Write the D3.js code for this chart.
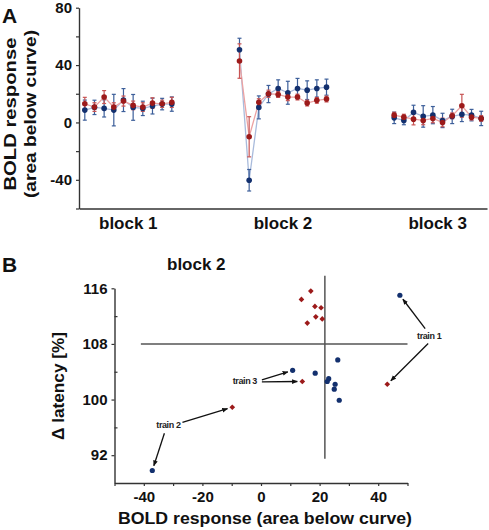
<!DOCTYPE html>
<html><head><meta charset="utf-8">
<script src="https://cdn.jsdelivr.net/npm/d3@7"></script>
<style>
body{margin:0;background:#fff;}
svg{display:block;font-family:"Liberation Sans",Arial,Helvetica,sans-serif;}
</style>
</head><body>
<svg id="chart" width="489" height="530"></svg>
<script>
// ---------- Panel A data ----------
const blocks = ["block 1", "block 2", "block 3"];
const trialsPerBlock = 10;
const blueMean = [8.6, 10.5, 9.8, 8.6, 15.6, 10.5, 9.8, 11.4, 12.8, 12.8,
                  50.7, -40.3, 10.5, 19.8, 23.7, 20.7, 23.7, 22.5, 23.7, 24.6,
                  3.2, 1.4, 7.0, 4.2, 5.1, 1.4, 4.2, 5.6, 5.1, 2.8];
const blueErr  = [7, 5, 6, 11, 8, 9, 5, 5.5, 4, 5,
                  8, 7.5, 8, 6, 6, 8, 7, 6.5, 6, 5.6,
                  4, 3, 5, 7.5, 6, 5, 5, 5, 4, 5];
const redMean  = [13.0, 10.7, 17.7, 10.7, 14.9, 11.9, 10.7, 13.5, 13.0, 14.0,
                  42.8, -10.0, 14.0, 20.0, 19.5, 17.7, 17.7, 13.5, 15.4, 16.3,
                  5.1, 3.7, 2.3, 1.4, 2.8, 0.0, 4.6, 11.6, 3.7, 2.8];
const redErr   = [4.5, 3, 4.5, 3, 3.5, 3, 3, 3.7, 2.5, 3.5,
                  12, 14, 2.5, 2.5, 2, 2.5, 2, 2, 2, 2,
                  2, 2, 4, 3, 3, 3, 2, 8, 2, 2];
const yTicksA = [80, 40, 0, -40];
const yMinorA = [60, 20, -20, -60];

// ---------- Panel B data ----------
const scatterTitle = "block 2";
const blueX = [47.4, -37.1, 10.8, 18.5, 26.2, 23.1, 22.6, 25.3, 25.0, 26.7];
const blueY = [115.0, 89.8, 104.2, 103.8, 105.7, 103.0, 102.6, 102.2, 101.5, 99.9];
const redX  = [43.1, -9.8, 14.1, 13.8, 17.0, 18.4, 20.5, 18.7, 15.8, 20.9];
const redY  = [102.2, 98.9, 102.6, 114.4, 115.6, 113.4, 113.2, 111.9, 111.0, 111.6];
const trainLabels = ["train 1", "train 2", "train 3"];
const trainLabelX = [57.4, -31.6, -5.5];
const trainLabelY = [109.2, 96.3, 102.7];
const refX = 21.8, refXSpan = [91.5, 117.8];
const refY = 108, refYSpan = [-41, 50];
const yTicksB = [116, 108, 100, 92];
const yMinorB = [112, 104, 96];
const xTicksB = [-40, -20, 0, 20, 40];
const xMinorB = [-50, -30, -10, 10, 30, 50];

// ---------- styles ----------
const BLUE = "#13306e", RED = "#9c1a1a";
const BLUE_LINE = "#a9bbdc", RED_LINE = "#eca2a2";
const BLUE_ERR = "#3d5f9a", RED_ERR = "#c85454";
const AXIS = "#333";
const fmt = d => String(d);

const svg = d3.select("#chart");

// ================= Panel A =================
const xA = d3.scaleLinear().domain([-0.6, 41.6]).range([79, 487]);
const yA = d3.scaleLinear().domain([-60, 80]).range([208.5, 7.7]);
const pos = (i) => Math.floor(i / trialsPerBlock) * 16 + (i % trialsPerBlock);

const gA = svg.append("g");

const yAxisA = gA.append("g").attr("transform", `translate(${xA.range()[0]},0)`)
  .call(d3.axisLeft(yA).tickValues(yTicksA).tickFormat(fmt).tickSize(3).tickPadding(4).tickSizeOuter(0));
gA.append("g").attr("transform", `translate(${xA.range()[0]},0)`)
  .call(d3.axisLeft(yA).tickValues(yMinorA).tickSize(3).tickFormat("").tickSizeOuter(0))
  .select(".domain").remove();
gA.append("g").attr("transform", `translate(0,${yA(-60)})`)
  .call(d3.axisBottom(xA).tickValues([]).tickSizeOuter(0));

gA.selectAll(".domain").attr("stroke", AXIS).attr("stroke-width", 1.4);
gA.selectAll(".tick line").attr("stroke", AXIS).attr("stroke-width", 1.2);
yAxisA.selectAll(".tick text").attr("font-size", 15).attr("font-weight", "bold").attr("fill", "#111");

gA.selectAll(".blockLabel").data(blocks).join("text")
  .attr("x", (d, b) => xA(b * 16 + 4.5))
  .attr("y", 229)
  .attr("text-anchor", "middle")
  .attr("font-size", 17).attr("font-weight", "bold").attr("fill", "#111")
  .text(d => d);

// y-title
const ytA = gA.append("g").attr("transform", "translate(0,114) rotate(-90)");
ytA.append("text").attr("x", 0).attr("y", 16).attr("text-anchor", "middle")
  .attr("font-size", 17).attr("font-weight", "bold").attr("fill", "#111")
  .attr("textLength", 153).attr("lengthAdjust", "spacingAndGlyphs")
  .text("BOLD response");
ytA.append("text").attr("x", 0).attr("y", 36).attr("text-anchor", "middle")
  .attr("font-size", 17).attr("font-weight", "bold").attr("fill", "#111")
  .attr("textLength", 168).attr("lengthAdjust", "spacingAndGlyphs")
  .text("(area below curve)");

svg.append("text").attr("x", 2).attr("y", 23).attr("font-size", 21)
  .attr("font-weight", "bold").attr("fill", "#111").text("A");

function drawSeries(means, errs, lineColor, errColor) {
  const idx = d3.range(means.length);
  blocks.forEach((b, bi) => {
    const sub = idx.filter(i => Math.floor(i / trialsPerBlock) === bi);
    gA.append("path").datum(sub)
      .attr("fill", "none").attr("stroke", lineColor).attr("stroke-width", 1.3)
      .attr("d", d3.line().x(i => xA(pos(i))).y(i => yA(means[i])));
  });
  const eg = gA.append("g").attr("stroke", errColor).attr("stroke-width", 1.2);
  idx.forEach(i => {
    const x = xA(pos(i)), y0 = yA(means[i] - errs[i]), y1 = yA(means[i] + errs[i]);
    eg.append("line").attr("x1", x).attr("x2", x).attr("y1", y0).attr("y2", y1);
    eg.append("line").attr("x1", x - 2).attr("x2", x + 2).attr("y1", y0).attr("y2", y0);
    eg.append("line").attr("x1", x - 2).attr("x2", x + 2).attr("y1", y1).attr("y2", y1);
  });
  return idx;
}
const idxB = drawSeries(blueMean, blueErr, BLUE_LINE, BLUE_ERR);
const idxR = drawSeries(redMean, redErr, RED_LINE, RED_ERR);
gA.selectAll(".bdot").data(idxB).join("circle")
  .attr("cx", i => xA(pos(i))).attr("cy", i => yA(blueMean[i])).attr("r", 2.8).attr("fill", BLUE);
gA.selectAll(".rdot").data(idxR).join("circle")
  .attr("cx", i => xA(pos(i))).attr("cy", i => yA(redMean[i])).attr("r", 2.8).attr("fill", RED);

// ================= Panel B =================
const xB = d3.scaleLinear().domain([-50, 50]).range([114.5, 407.5]);
const yB = d3.scaleLinear().domain([88, 116]).range([483, 288.3]);
const gB = svg.append("g");

gB.append("g").attr("transform", `translate(${xB(-50)},0)`)
  .call(d3.axisLeft(yB).tickValues(yTicksB).tickFormat(fmt).tickSize(3).tickPadding(4).tickSizeOuter(0));
gB.append("g").attr("transform", `translate(${xB(-50)},0)`)
  .call(d3.axisRight(yB).tickValues(yMinorB).tickSize(3).tickFormat("").tickSizeOuter(0))
  .select(".domain").remove();
gB.append("g").attr("transform", `translate(0,${yB(88)})`)
  .call(d3.axisBottom(xB).tickValues(xTicksB).tickFormat(fmt).tickSize(3).tickPadding(5).tickSizeOuter(0));
gB.append("g").attr("transform", `translate(0,${yB(88)})`)
  .call(d3.axisBottom(xB).tickValues(xMinorB).tickSize(3).tickFormat("").tickSizeOuter(0))
  .select(".domain").remove();
gB.selectAll(".domain").attr("stroke", AXIS).attr("stroke-width", 1.4);
gB.selectAll(".tick line").attr("stroke", AXIS).attr("stroke-width", 1.2);
gB.selectAll(".tick text").attr("font-size", 15).attr("font-weight", "bold").attr("fill", "#111");

// reference lines
gB.append("line").attr("x1", xB(refYSpan[0])).attr("x2", xB(refYSpan[1]))
  .attr("y1", yB(refY)).attr("y2", yB(refY)).attr("stroke", "#555").attr("stroke-width", 1.5);
gB.append("line").attr("x1", xB(refX)).attr("x2", xB(refX))
  .attr("y1", yB(refXSpan[0])).attr("y2", yB(refXSpan[1])).attr("stroke", "#555").attr("stroke-width", 1.5);

// titles
svg.append("text").attr("x", 2).attr("y", 272).attr("font-size", 21)
  .attr("font-weight", "bold").attr("fill", "#111").text("B");
svg.append("text").attr("x", 167).attr("y", 270).attr("font-size", 17)
  .attr("font-weight", "bold").attr("fill", "#111").text(scatterTitle);
svg.append("text").attr("x", 265).attr("y", 524).attr("text-anchor", "middle")
  .attr("font-size", 17).attr("font-weight", "bold").attr("fill", "#111")
  .attr("textLength", 294).attr("lengthAdjust", "spacingAndGlyphs")
  .text("BOLD response (area below curve)");
svg.append("text").attr("transform", "translate(64,386) rotate(-90)")
  .attr("text-anchor", "middle").attr("font-size", 17).attr("font-weight", "bold").attr("fill", "#111")
  .attr("textLength", 108).attr("lengthAdjust", "spacingAndGlyphs")
  .text("Δ latency [%]");

// arrow marker
svg.append("defs").append("marker").attr("id", "ah")
  .attr("viewBox", "0 0 10 10").attr("refX", 9).attr("refY", 5)
  .attr("markerWidth", 4.5).attr("markerHeight", 4.5).attr("orient", "auto")
  .append("path").attr("d", "M0,1 L10,5 L0,9 Z").attr("fill", "#111");

// annotations
const startOff = {
  "train 1": [[-4, -7], [-1, 8]],
  "train 2": [[-4, 8], [14, -3]],
  "train 3": [[17, -1], [17, 1]]
};
trainLabels.forEach((t, k) => {
  const lx = xB(trainLabelX[k]), ly = yB(trainLabelY[k]);
  const targets = [[xB(blueX[k]), yB(blueY[k])], [xB(redX[k]), yB(redY[k])]];
  targets.forEach((p, j) => {
    const sx = lx + startOff[t][j][0], sy = ly + startOff[t][j][1];
    const dx = p[0] - sx, dy = p[1] - sy, L = Math.hypot(dx, dy);
    const ex = p[0] - dx / L * 5, ey = p[1] - dy / L * 5;
    gB.append("line").attr("x1", sx).attr("y1", sy).attr("x2", ex).attr("y2", ey)
      .attr("stroke", "#111").attr("stroke-width", 1.3).attr("marker-end", "url(#ah)");
  });
  gB.append("text").attr("x", lx).attr("y", ly + 3).attr("text-anchor", "middle")
    .attr("font-size", 9).attr("font-weight", "bold").attr("letter-spacing", -0.4)
    .attr("fill", "#222").text(t);
});

// points
gB.selectAll(".sb").data(d3.range(blueX.length)).join("circle")
  .attr("cx", i => xB(blueX[i])).attr("cy", i => yB(blueY[i])).attr("r", 2.6).attr("fill", BLUE);
gB.selectAll(".sr").data(d3.range(redX.length)).join("path")
  .attr("transform", i => `translate(${xB(redX[i])},${yB(redY[i])}) rotate(45)`)
  .attr("d", d3.symbol().type(d3.symbolSquare).size(16)).attr("fill", RED);
</script>
</body></html>
